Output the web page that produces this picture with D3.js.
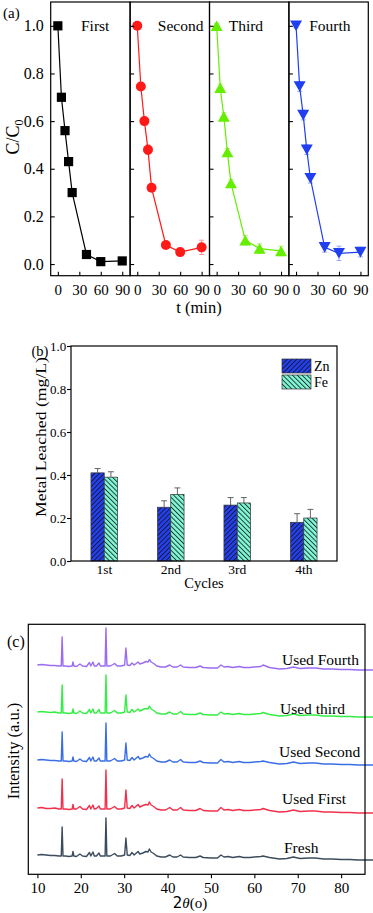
<!DOCTYPE html>
<html>
<head>
<meta charset="utf-8">
<title>Catalyst reuse</title>
<style>
  body { margin: 0; background: #fff; }
  svg { display: block; font-family: "Liberation Serif", "Times New Roman", serif; }
  .frame { fill: none; stroke: #000; stroke-width: 1.2; }
  .axis path { display: none; }
  .axis line { stroke: #000; stroke-width: 1.1; }
  .axis text { fill: #000; font-family: "Liberation Serif", serif; }
</style>
<script src="https://d3js.org/d3.v7.min.js"></script>
</head>
<body>
<svg width="373" height="913"></svg>
<script>
// ---------- (a) C/C0 vs time, four cycles ----------
var times = [0, 5, 10, 15, 20, 40, 60, 90];
var runNames = ["First", "Second", "Third", "Fourth"];
var firstRun  = [1.0, 0.70, 0.56, 0.43, 0.30, 0.04, 0.01, 0.013];
var secondRun = [1.0, 0.745, 0.60, 0.48, 0.32, 0.08, 0.05, 0.07];
var thirdRun  = [1.0, 0.74, 0.62, 0.47, 0.34, 0.10, 0.065, 0.055];
var fourthRun = [1.0, 0.745, 0.625, 0.48, 0.36, 0.07, 0.045, 0.05];
var firstErr  = [0.01, 0.01, 0.01, 0.015, 0.01, 0.01, 0.01, 0.01];
var secondErr = [0.01, 0.015, 0.015, 0.02, 0.015, 0.015, 0.01, 0.03];
var thirdErr  = [0.01, 0.015, 0.015, 0.015, 0.015, 0.02, 0.02, 0.02];
var fourthErr = [0.01, 0.02, 0.02, 0.02, 0.02, 0.02, 0.03, 0.02];
var cTicks = [0, 0.2, 0.4, 0.6, 0.8, 1.0];
var tTicks = [0, 30, 60, 90];

// ---------- (b) metal leaching ----------
var cycles = ["1st", "2nd", "3rd", "4th"];
var metals = ["Zn", "Fe"];
var znLeached = [0.41, 0.25, 0.26, 0.18];
var znErr     = [0.02, 0.03, 0.035, 0.04];
var feLeached = [0.39, 0.31, 0.27, 0.20];
var feErr     = [0.025, 0.03, 0.025, 0.04];
var leachTicks = [0, 0.2, 0.4, 0.6, 0.8, 1.0];

// ---------- (c) XRD ----------
var xrdTheta = [10,11,12, 13,14,15, 15.5,15.7,15.9, 16.5,17.2,18, 18.2,18.4,19, 19.8,20.4,21.3,
  22,22.3,22.8, 23.1,23.6,24.2, 24.5,25.2,25.6, 25.8,26,26.8, 27.8,28.4,29.3, 30.1,30.4,30.7,
  31.3,31.8,32.3, 33.2,33.6,34.3, 35,35.5,35.8, 36.2,36.8,37.5, 38.5,39.5,40.5, 41.2,42.2,43,
  43.6,45,46.5, 47.5,48.2,50, 51.5,52.3,53, 54,55,56.5, 57.5,59,60, 61.5,62,63.5, 65.8,67.5,69,
  70.5,72.5,74, 76,78,80, 82,84,86, 88];
var xrdFresh = [0,0.5,0, -0.5,-0.5,-1, -1,28,-1, -1,-1.5,-1, 3.5,-1,-1.5, 1,-1,-1.5,
  2.5,-1,3, -1,-1,2, -1,-1,-1, 37,-1,-1, 1.5,-1,-1, 0,17,0,
  -0.5,2.5,0, 3.5,1,2, 3.5,3,6, 3,1.5,-1, -2,-2,0, -2,-2,0,
  -2,-2.5,-2.5, -1,-2.5,-3, -3,0,-2, -1.5,-2.5,-1.5, -2.5,-2.5,-2, -1.5,-1,-2.5, -4,-3.5,-2,
  -3.5,-3,-3, -4,-4,-4.5, -4.5,-5,-5, -5];
var xrdFirst = [0,0.5,-0.5, -0.5,0,-1, -1,29,-1, -1,-1.5,-1, 3.5,-1,-1, 1.5,-1,-1.5,
  2.5,-1,3, -1,-0.5,2, -1,-1,-1, 38,-1,-1, 1.5,-1,-1, 0,18,0,
  -0.5,2.5,0, 3.5,1,2.5, 3.5,3,6, 3,1.5,-1, -2,-2,0.5, -2,-2,0.5,
  -2,-2.5,-2.5, -0.5,-2.5,-3, -3,0.5,-2, -1.5,-2.5,-1.5, -2.5,-2.5,-2, -1.5,-0.5,-2.5, -4,-3.5,-2,
  -3.5,-3,-3, -4,-4,-4.5, -4.5,-5,-5, -5];
var xrdSecond = [0,0.5,0, -0.5,-0.5,-1, -1,28,-1, -1,-1.5,-1, 3,-1,-1.5, 1,-1,-1.5,
  2.5,-1,3, -1,-1,2, -1,-1,-1, 37,-1,-1, 1.5,-1,-1, 0,17,0,
  -0.5,2.5,0, 3.5,1,2, 3.5,3,6, 3,1.5,-1, -2,-2,0, -2,-2,0.5,
  -2,-2.5,-2.5, -1,-2.5,-3, -3,0.5,-2, -1.5,-2.5,-1.5, -2.5,-2.5,-2, -1.5,-1,-2.5, -4,-3.5,-2,
  -3.5,-3,-3, -4,-4,-4.5, -4.5,-5,-5, -5];
var xrdThird = [0,0.5,0, -0.5,0,-1, -1,27,-1, -1,-1.5,-1, 3,-1,-1.5, 1,-1,-1.5,
  2.5,-1,3, -1,-1,2.5, -1,-1,-1, 37,-1,-1, 1.5,-1,-1, 0,17,0,
  -0.5,2.5,0, 3,1,2.5, 3.5,3,6, 3,1.5,-1, -2,-2,0, -2,-2,0.5,
  -2,-2.5,-2.5, -1,-2.5,-3, -3,0,-2, -1.5,-2.5,-1.5, -2.5,-2.5,-2, -1.5,-0.5,-2.5, -4,-3.5,-2,
  -3.5,-3,-3, -4,-4,-4.5, -4.5,-5,-5, -5];
var xrdFourth = [0,0.5,0, -0.5,-0.5,-1, -1,28,-1, -1,-1.5,-1, 3,-1,-1.5, 1,-1,-1.5,
  2.5,-1,3, -1,-1,2, -1,-1,-1, 37,-1,-1, 1.5,-1,-1, 0,17,0,
  -0.5,2,0, 3,1,2, 3.5,3,5.5, 3,1.5,-1, -2,-2,0, -2,-2,0,
  -2,-2.5,-2.5, -1,-2.5,-3, -3,0,-2, -1.5,-2.5,-1.5, -2.5,-2.5,-2, -1.5,0,-2.5, -4,-3.5,-2,
  -3.5,-3,-3, -4,-4,-4.5, -4.5,-5,-5, -5];
var xrdNames = ["Fresh", "Used First", "Used Second", "Used third", "Used Fourth"];
var xrdOffsets = [19.3, 66.3, 114.3, 162.3, 209.3];
var thetaTicks = [10, 20, 30, 40, 50, 60, 70, 80];

var svg = d3.select("svg");

// =============== panel (a) ===============
var runs = [firstRun, secondRun, thirdRun, fourthRun];
var runErrs = [firstErr, secondErr, thirdErr, fourthErr];
var runColors = ["#000000", "#ff1a1a", "#66ee00", "#1f3ff0"];
var runErrColors = ["#8a8a8a", "#ff8a8a", "#b0f070", "#8f9cff"];
var runLabelDx = [30.3, 27.7, 19.2, 20.3];

var aTop = 2, aBottom = 275.7;
var panelX = d3.scaleBand().domain(runNames).range([50.7, 368.3]);
var yA = d3.scaleLinear().domain([-0.049, 1.10]).range([aBottom, aTop]);

function marker(kind) {
  if (kind === 0) return "M-4.6,-4.6H4.6V4.6H-4.6Z";
  if (kind === 1) return "M5,0A5,5 0 1,1 -5,0A5,5 0 1,1 5,0Z";
  if (kind === 2) return "M0,-5.3L6,5.3L-6,5.3Z";
  return "M0,5.3L6,-5.3L-6,-5.3Z";
}

runNames.forEach(function (name, i) {
  var x0 = panelX(name);
  var xs = d3.scaleLinear().domain([-10, 101]).range([x0, x0 + panelX.bandwidth()]);
  var g = svg.append("g");
  var pts = times.map(function (t, j) { return { t: t, v: runs[i][j], e: runErrs[i][j] }; });

  // error bars
  g.selectAll(".err").data(pts).enter().append("path")
    .attr("fill", "none").attr("stroke", runErrColors[i]).attr("stroke-width", 0.9)
    .attr("d", function (d) {
      var x = xs(d.t), y1 = yA(d.v + d.e), y2 = yA(d.v - d.e);
      return "M" + (x - 2.5) + "," + y1 + "H" + (x + 2.5) + "M" + x + "," + y1 + "V" + y2 +
             "M" + (x - 2.5) + "," + y2 + "H" + (x + 2.5);
    });

  g.append("path").datum(pts)
    .attr("fill", "none").attr("stroke", runColors[i]).attr("stroke-width", 1.2)
    .attr("d", d3.line().x(function (d) { return xs(d.t); }).y(function (d) { return yA(d.v); }));

  g.selectAll(".mk").data(pts).enter().append("path")
    .attr("fill", runColors[i])
    .attr("transform", function (d) { return "translate(" + xs(d.t) + "," + yA(d.v) + ")"; })
    .attr("d", marker(i));

  // inward ticks
  g.append("g").attr("class", "axis").attr("transform", "translate(0," + aBottom + ")")
    .call(d3.axisBottom(xs).tickValues(tTicks).tickSize(-4).tickPadding(8.7))
    .selectAll("text").style("font-size", "15px");

  var ay = g.append("g").attr("class", "axis").attr("transform", "translate(" + x0 + ",0)");
  if (i === 0) {
    ay.call(d3.axisLeft(yA).tickValues(cTicks).tickSize(-4).tickPadding(7).tickFormat(d3.format(".1f")))
      .selectAll("text").style("font-size", "16px");
  } else {
    ay.call(d3.axisRight(yA).tickValues(cTicks).tickSize(4).tickFormat(""));
  }

  g.append("text").attr("x", x0 + runLabelDx[i]).attr("y", 31)
    .style("font-size", "15.5px").text(name);

  g.append("rect").attr("class", "frame")
    .attr("x", x0).attr("y", aTop).attr("width", panelX.bandwidth()).attr("height", aBottom - aTop);
});

svg.append("text").attr("x", 3).attr("y", 18).style("font-size", "15px").text("(a)");
svg.append("text").attr("x", 199).attr("y", 313).attr("text-anchor", "middle")
  .style("font-size", "16.5px").text("t (min)");
var cLab = svg.append("text").attr("transform", "translate(19,137) rotate(-90)")
  .attr("text-anchor", "middle").style("font-size", "18px");
cLab.append("tspan").text("C/C");
cLab.append("tspan").attr("dy", 4).style("font-size", "12px").text("0");

// =============== panel (b) ===============
var defs = svg.append("defs");
function hatch(id, fill, angle) {
  var p = defs.append("pattern").attr("id", id).attr("patternUnits", "userSpaceOnUse")
    .attr("width", 3.4).attr("height", 3.4).attr("patternTransform", "rotate(" + angle + ")");
  p.append("rect").attr("width", 3.4).attr("height", 3.4).attr("fill", fill);
  p.append("line").attr("x1", 0.5).attr("y1", 0).attr("x2", 0.5).attr("y2", 3.4)
    .attr("stroke", "#111").attr("stroke-width", 0.8);
}
hatch("hZn", "#2440ee", 45);
hatch("hFe", "#7ff7d6", -45);
var metalFill = { Zn: "url(#hZn)", Fe: "url(#hFe)" };

var bL = 71, bR = 337, bT = 346, bB = 561;
var xB = d3.scaleBand().domain(cycles).range([bL, bR]);
var xM = d3.scaleBand().domain(metals)
  .range([xB.bandwidth() / 2 - 13.3, xB.bandwidth() / 2 + 13.3]);
var yB = d3.scaleLinear().domain([0, 1]).range([bB, bT]);

var barData = [];
cycles.forEach(function (c, j) {
  barData.push({ c: c, m: "Zn", v: znLeached[j], e: znErr[j] });
  barData.push({ c: c, m: "Fe", v: feLeached[j], e: feErr[j] });
});

var gb = svg.append("g");
gb.selectAll(".errb").data(barData).enter().append("path")
  .attr("fill", "none").attr("stroke", "#555").attr("stroke-width", 0.9)
  .attr("d", function (d) {
    var x = xB(d.c) + xM(d.m) + xM.bandwidth() / 2, y1 = yB(d.v + d.e), y2 = yB(d.v);
    return "M" + (x - 3) + "," + y1 + "H" + (x + 3) + "M" + x + "," + y1 + "V" + y2;
  });
gb.selectAll(".bar").data(barData).enter().append("rect")
  .attr("x", function (d) { return xB(d.c) + xM(d.m); })
  .attr("y", function (d) { return yB(d.v); })
  .attr("width", xM.bandwidth())
  .attr("height", function (d) { return yB(0) - yB(d.v); })
  .attr("fill", function (d) { return metalFill[d.m]; })
  .attr("stroke", "#333").attr("stroke-width", 0.7);

gb.append("g").attr("class", "axis").attr("transform", "translate(" + bL + ",0)")
  .call(d3.axisLeft(yB).tickValues(leachTicks).tickSize(4).tickPadding(0.8).tickFormat(d3.format(".1f")))
  .selectAll("text").style("font-size", "13px");
gb.append("g").attr("class", "axis").attr("transform", "translate(0," + bB + ")")
  .call(d3.axisBottom(xB).tickSize(0).tickPadding(3))
  .selectAll("text").style("font-size", "13.5px");
gb.append("rect").attr("class", "frame").attr("x", bL).attr("y", bT)
  .attr("width", bR - bL).attr("height", bB - bT);

var lg = gb.selectAll(".lg").data(metals).enter().append("g")
  .attr("transform", function (d, i) { return "translate(282," + (359 + i * 16) + ")"; });
lg.append("rect").attr("width", 29).attr("height", 14)
  .attr("fill", function (d) { return metalFill[d]; }).attr("stroke", "#333").attr("stroke-width", 0.7);
lg.append("text").attr("x", 32).attr("y", 11.5).style("font-size", "14px").text(function (d) { return d; });

svg.append("text").attr("x", 31.5).attr("y", 356).style("font-size", "14.5px").text("(b)");
svg.append("text").attr("x", 204).attr("y", 588).attr("text-anchor", "middle")
  .style("font-size", "14.5px").text("Cycles");
svg.append("text").attr("transform", "translate(46,437) rotate(-90)").attr("text-anchor", "middle")
  .attr("textLength", 160).attr("lengthAdjust", "spacingAndGlyphs")
  .style("font-size", "15px").text("Metal Leached (mg/L)");

// =============== panel (c) ===============
var cL = 28.3, cR = 365, cT = 624.3, cB = 874.3;
var xC = d3.scaleLinear().domain([7.9, 85.5]).range([cL, cR]);
var yC = d3.scaleLinear().domain([0, 250]).range([cB, cT]);
var xrdSeries = [xrdFresh, xrdFirst, xrdSecond, xrdThird, xrdFourth];
var xrdColors = ["#3c4c5c", "#f2304c", "#3a6ee6", "#33ee44", "#9a6cf2"];
var xrdLabelPos = [[284, 853], [282, 804], [279, 757], [280, 714], [282, 665]];

xrdSeries.forEach(function (s, i) {
  svg.append("path").datum(xrdTheta)
    .attr("fill", "none").attr("stroke", xrdColors[i]).attr("stroke-width", 1.4)
    .attr("stroke-linejoin", "round")
    .attr("d", d3.line().x(function (t) { return xC(t); })
      .y(function (t, j) { return yC(xrdOffsets[i] + s[j]); }));
  svg.append("text").attr("x", xrdLabelPos[i][0]).attr("y", xrdLabelPos[i][1])
    .style("font-size", "15.5px").text(xrdNames[i]);
});

svg.append("g").attr("class", "axis").attr("transform", "translate(0," + cB + ")")
  .call(d3.axisBottom(xC).tickValues(thetaTicks).tickSize(4).tickPadding(4))
  .selectAll("text").style("font-size", "15px");
svg.append("rect").attr("class", "frame").attr("x", cL).attr("y", cT)
  .attr("width", cR - cL).attr("height", cB - cT);

svg.append("text").attr("x", 7).attr("y", 647).style("font-size", "16px").text("(c)");
svg.append("text").attr("transform", "translate(19,751) rotate(-90)").attr("text-anchor", "middle")
  .style("font-size", "16.5px").text("Intensity (a.u.)");
var tLab = svg.append("text").attr("x", 190).attr("y", 908).attr("text-anchor", "middle")
  .style("font-size", "15px");
tLab.append("tspan").style("font-family", "DejaVu Sans").text("2");
tLab.append("tspan").style("font-style", "italic").text("θ");
tLab.append("tspan").text("(o)");
</script>
</body>
</html>
